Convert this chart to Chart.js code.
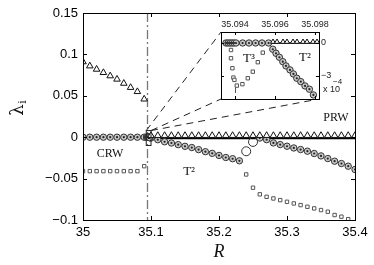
<!DOCTYPE html>
<html>
<head>
<meta charset="utf-8">
<title>Lambda vs R</title>
<script src="https://cdn.jsdelivr.net/npm/chart.js"></script>
<style>
  body { margin: 0; background: #fff; }
  #wrap { position: relative; width: 374px; height: 265px; }
  #wrap canvas { position: absolute; left: 0; top: 0; }
</style>
</head>
<body>
<div id="wrap">
  <canvas id="mainChart" width="374" height="265"></canvas>
  <canvas id="insetChart" width="374" height="265"></canvas>
</div>
<script>
// ---- main axes ----
const rTicks = [35, 35.1, 35.2, 35.3, 35.4];
const lamTicks = [-0.1, -0.05, 0, 0.05, 0.1, 0.15];

// triangles, falling branch left of the fold
const triR = [35.00, 35.01, 35.02, 35.03, 35.04, 35.05, 35.06, 35.07, 35.08, 35.09];
const triLam = [0.091, 0.086, 0.082, 0.078, 0.074, 0.070, 0.065, 0.060, 0.055, 0.046];

// triangles just above zero (PRW) and the solid zero line under them
const triZeroR = [35.10, 35.11, 35.12, 35.13, 35.14, 35.15, 35.16, 35.17, 35.18, 35.19, 35.20,
  35.21, 35.22, 35.23, 35.24, 35.25, 35.26, 35.27, 35.28, 35.29, 35.30, 35.31, 35.32, 35.33, 35.34,
  35.35, 35.36, 35.37, 35.38, 35.39, 35.40];
const triZeroLam = [0.002, 0.002, 0.002, 0.002, 0.002, 0.002, 0.002, 0.002, 0.002, 0.002, 0.002,
  0.002, 0.002, 0.002, 0.002, 0.002, 0.002, 0.002, 0.002, 0.002, 0.002, 0.002, 0.002, 0.002, 0.002,
  0.002, 0.002, 0.002, 0.002, 0.002, 0.002];
const zeroLineR = [35.094, 35.40];
const zeroLineLam = [-0.0014, -0.0014];

// circles on zero (CRW)
const cirZeroR = [35.00, 35.01, 35.02, 35.03, 35.04, 35.05, 35.06, 35.07, 35.08, 35.09];
const cirZeroLam = [0, 0, 0, 0, 0, 0, 0, 0, 0, 0];

// circles, first T2 branch
const cirDownR = [35.10, 35.11, 35.12, 35.13, 35.14, 35.15, 35.16, 35.17, 35.18, 35.19, 35.20, 35.21, 35.22, 35.23];
const cirDownLam = [-0.001, -0.003, -0.0055, -0.007, -0.009, -0.011, -0.0125, -0.015, -0.0175, -0.0195,
  -0.022, -0.0245, -0.026, -0.0285];

// open circles between branches
const cirOpenR = [35.24, 35.25];
const cirOpenLam = [-0.017, -0.0057];

// circles, second branch
const cirDown2R = [35.26, 35.27, 35.28, 35.29, 35.30, 35.31, 35.32, 35.33, 35.34, 35.35, 35.36, 35.37, 35.38, 35.39, 35.40];
const cirDown2Lam = [-0.001, -0.003, -0.0069, -0.0089, -0.0109, -0.013, -0.0149, -0.0169, -0.0197,
  -0.0226, -0.0258, -0.029, -0.0318, -0.035, -0.039];

// squares
const sqR = [35.00, 35.01, 35.02, 35.03, 35.04, 35.05, 35.06, 35.07, 35.08, 35.09];
const sqLam = [-0.041, -0.041, -0.041, -0.041, -0.041, -0.041, -0.041, -0.041, -0.041, -0.035];
const sq2R = [35.24, 35.25, 35.26, 35.27, 35.28, 35.29, 35.30, 35.31, 35.32, 35.33, 35.34, 35.35, 35.36, 35.37, 35.38, 35.39];
const sq2Lam = [-0.045, -0.061, -0.069, -0.072, -0.074, -0.076, -0.078, -0.080, -0.082, -0.084,
  -0.086, -0.088, -0.090, -0.094, -0.096, -0.099];

// ---- inset (zoom near the fold) ----
const inRTicks = [35.094, 35.096, 35.098];
const inLamTicks = [0, -0.0003];
const inTriR = [35.0959, 35.0961, 35.0964, 35.0966, 35.0969, 35.0971, 35.0974, 35.0976, 35.0979, 35.0981];
const inTriLam = [0.1e-4, 0.1e-4, 0.1e-4, 0.1e-4, 0.1e-4, 0.1e-4, 0.1e-4, 0.1e-4, 0.1e-4, 0.1e-4];
const inLineR = [35.0936, 35.0982];
const inLineLam = [0, 0];
const inCirZeroR = [35.09355, 35.09365, 35.09375, 35.09385, 35.09395, 35.09405, 35.09438, 35.0947, 35.09503, 35.09535, 35.09568];
const inCirZeroLam = [0, 0, 0, 0, 0, 0, 0, 0, 0, 0, 0];
const inCirDownR = [35.09589, 35.09605, 35.09622, 35.09639, 35.09655, 35.09675, 35.09692, 35.09709, 35.09729, 35.0975, 35.09772, 35.09792];
const inCirDownLam = [-0.57e-4, -0.94e-4, -1.30e-4, -1.70e-4, -2.09e-4, -2.45e-4, -2.82e-4, -3.21e-4, -3.52e-4, -3.91e-4, -4.21e-4, -4.73e-4];
const inSqR = [35.0938, 35.0938, 35.09387, 35.09392, 35.09397, 35.09409, 35.09437, 35.09464, 35.09489, 35.09514, 35.09539];
const inSqLam = [-0.64e-4, -1.39e-4, -2.30e-4, -3.15e-4, -3.36e-4, -3.88e-4, -3.75e-4, -3.21e-4, -2.61e-4, -1.75e-4, -0.88e-4];

const pts = (xs, ys) => xs.map((x, i) => ({ x: x, y: ys[i] }));
const fmt = v => String(parseFloat(Number(v).toFixed(6))).replace('-', '\u2212');

function markerSets(list) {
  // list of [xs, ys, kind]
  const out = [];
  list.forEach(([xs, ys, kind]) => {
    const d = pts(xs, ys);
    if (kind === 'tri') {
      out.push({ data: d, pointStyle: 'triangle', pointRadius: 3.8, borderColor: '#111', backgroundColor: '#fff', pointBorderWidth: 1 });
    } else if (kind === 'triSmall') {
      out.push({ data: d, pointStyle: 'triangle', pointRadius: 2.9, borderColor: '#111', backgroundColor: '#fff', pointBorderWidth: 1 });
    } else if (kind === 'line') {
      out.push({ data: d, showLine: true, borderColor: '#000', borderWidth: 1.6, pointRadius: 0 });
    } else if (kind === 'cir') {
      out.push({ data: d, pointStyle: 'circle', pointRadius: 3.2, borderColor: '#333', backgroundColor: '#c8c8c8', pointBorderWidth: 1 });
      out.push({ data: d, pointStyle: 'circle', pointRadius: 1.1, borderColor: '#222', backgroundColor: '#222', pointBorderWidth: 0 });
    } else if (kind === 'open') {
      out.push({ data: d, pointStyle: 'circle', pointRadius: 4.5, borderColor: '#333', backgroundColor: 'rgba(0,0,0,0)', pointBorderWidth: 1 });
    } else if (kind === 'sq') {
      out.push({ data: d, pointStyle: 'rect', pointRadius: 2.4, borderColor: '#555', backgroundColor: '#fff', pointBorderWidth: 1 });
    }
  });
  return out;
}

function inwardTicks(ctx, a, sx, sy, xt, yt, len) {
  ctx.beginPath();
  xt.forEach(v => {
    const px = Math.round(sx.getPixelForValue(v)) + 0.5;
    ctx.moveTo(px, a.bottom); ctx.lineTo(px, a.bottom - len);
    ctx.moveTo(px, a.top); ctx.lineTo(px, a.top + len);
  });
  yt.forEach(v => {
    const py = Math.round(sy.getPixelForValue(v)) + 0.5;
    ctx.moveTo(a.left, py); ctx.lineTo(a.left + len, py);
    ctx.moveTo(a.right, py); ctx.lineTo(a.right - len, py);
  });
  ctx.stroke();
}

// ---- inset chart ----
const insetFrame = {
  id: 'insetFrame',
  beforeDatasetsDraw(chart) {
    const { ctx, chartArea: a, scales: { x } } = chart;
    ctx.save();
    ctx.fillStyle = '#fff';
    ctx.fillRect(a.left, a.top, a.right - a.left, a.bottom - a.top);
    // piece of the fold line inside the inset
    ctx.strokeStyle = '#555'; ctx.lineWidth = 1;
    const fx = Math.round(x.getPixelForValue(35.094)) + 0.5;
    ctx.beginPath(); ctx.moveTo(fx, a.bottom - 12); ctx.lineTo(fx, a.bottom - 6); ctx.stroke();
    ctx.restore();
  },
  afterDraw(chart) {
    const { ctx, chartArea: a, scales: { x, y } } = chart;
    ctx.save();
    ctx.strokeStyle = '#000'; ctx.lineWidth = 1;
    ctx.strokeRect(Math.round(a.left) + 0.5, Math.round(a.top) + 0.5, Math.round(a.right - a.left), Math.round(a.bottom - a.top));
    inwardTicks(ctx, a, x, y, inRTicks, inLamTicks, 3);
    // exponent of the right axis
    ctx.fillStyle = '#222';
    ctx.font = '9px "Liberation Sans"';
    ctx.textBaseline = 'middle'; ctx.textAlign = 'left';
    ctx.fillText('x 10', a.right + 4, a.bottom - 9);
    ctx.font = '8px "Liberation Sans"';
    ctx.fillText('\u22124', a.right + 14, a.bottom - 17);
    // branch labels
    ctx.font = '13px "Liberation Serif"';
    ctx.fillStyle = '#111';
    ctx.fillText('T\u00b3', x.getPixelForValue(35.0944), y.getPixelForValue(-1.4e-4));
    ctx.fillText('T\u00b2', x.getPixelForValue(35.0972), y.getPixelForValue(-1.3e-4));
    ctx.restore();
  }
};

const insetChart = new Chart(document.getElementById('insetChart'), {
  type: 'scatter',
  data: {
    datasets: markerSets([
      [inLineR, inLineLam, 'line'],
      [inSqR, inSqLam, 'sq'],
      [inCirDownR, inCirDownLam, 'cir'],
      [inCirZeroR, inCirZeroLam, 'cir'],
      [inTriR, inTriLam, 'triSmall']
    ]).reverse()
  },
  options: {
    responsive: false, animation: false, events: [],
    layout: { padding: { left: 221, right: 0, top: 0, bottom: 166 } },
    plugins: { legend: { display: false }, tooltip: { enabled: false } },
    scales: {
      x: {
        type: 'linear', position: 'top', min: 35.0933, max: 35.0982,
        afterBuildTicks: s => { s.ticks = inRTicks.map(v => ({ value: v })); },
        afterFit: s => { s.height = 32; },
        grid: { display: false, drawTicks: false }, border: { display: false },
        ticks: { padding: 2, maxRotation: 0, font: { family: 'Liberation Sans', size: 9 }, color: '#222', callback: v => fmt(v) }
      },
      y: {
        type: 'linear', position: 'right', min: -5.1e-4, max: 1e-4,
        afterBuildTicks: s => { s.ticks = inLamTicks.map(v => ({ value: v })); },
        afterFit: s => { s.width = 55; },
        grid: { display: false, drawTicks: false }, border: { display: false },
        ticks: { padding: 2, font: { family: 'Liberation Sans', size: 9 }, color: '#222', callback: v => fmt(Math.round(v * 1e4)) }
      }
    }
  },
  plugins: [insetFrame]
});

// ---- main chart ----
const mainFrame = {
  id: 'mainFrame',
  beforeDatasetsDraw(chart) {
    const { ctx, chartArea: a, scales: { x } } = chart;
    ctx.save();
    // dash-dot fold line
    ctx.strokeStyle = '#777'; ctx.lineWidth = 1.3;
    ctx.setLineDash([9, 3, 2, 3]);
    const fx = Math.round(x.getPixelForValue(35.0945)) + 0.5;
    ctx.beginPath(); ctx.moveTo(fx, a.top); ctx.lineTo(fx, a.bottom); ctx.stroke();
    ctx.restore();
  },
  afterDraw(chart) {
    const { ctx, chartArea: a, scales: { x, y } } = chart;
    ctx.save();
    ctx.strokeStyle = '#000'; ctx.lineWidth = 1;
    ctx.strokeRect(Math.round(a.left) + 0.5, Math.round(a.top) + 0.5, Math.round(a.right - a.left), Math.round(a.bottom - a.top));
    inwardTicks(ctx, a, x, y, rTicks, lamTicks, 4);

    // zoom box and connectors to the inset
    const bx0 = x.getPixelForValue(35.093), bx1 = x.getPixelForValue(35.1);
    const by0 = y.getPixelForValue(0.008), by1 = y.getPixelForValue(-0.01);
    ctx.strokeStyle = '#222'; ctx.lineWidth = 1;
    ctx.strokeRect(bx0, by0, bx1 - bx0, by1 - by0);
    const ia = insetChart.chartArea;
    ctx.setLineDash([7, 5]);
    ctx.beginPath();
    ctx.moveTo(bx0, by0); ctx.lineTo(ia.left, ia.top);
    ctx.moveTo(bx1, by0); ctx.lineTo(ia.left, ia.bottom);
    ctx.moveTo(bx1, by0); ctx.lineTo(ia.right, ia.bottom);
    ctx.stroke();
    ctx.setLineDash([]);

    // region labels
    ctx.fillStyle = '#111';
    ctx.font = '12px "Liberation Serif"';
    ctx.textAlign = 'center'; ctx.textBaseline = 'middle';
    ctx.fillText('CRW', x.getPixelForValue(35.0397), y.getPixelForValue(-0.0205));
    ctx.fillText('PRW', x.getPixelForValue(35.372), y.getPixelForValue(0.0229));
    ctx.font = '13px "Liberation Serif"';
    ctx.fillText('T\u00b2', x.getPixelForValue(35.156), y.getPixelForValue(-0.042));

    // axis titles
    ctx.font = 'italic 18px "Liberation Serif"';
    ctx.fillText('R', (a.left + a.right) / 2, 252);
    ctx.save();
    ctx.translate(18, 110);
    ctx.rotate(-Math.PI / 2);
    ctx.font = '18px "DejaVu Serif"';
    ctx.fillText('\u03bb', 0, 0);
    ctx.font = '11px "DejaVu Serif"';
    ctx.fillText('i', 8, 5);
    ctx.restore();
    ctx.restore();
  }
};

new Chart(document.getElementById('mainChart'), {
  type: 'scatter',
  data: {
    datasets: markerSets([
      [zeroLineR, zeroLineLam, 'line'],
      [sqR, sqLam, 'sq'],
      [sq2R, sq2Lam, 'sq'],
      [inSqR, inSqLam, 'sq'],
      [cirZeroR, cirZeroLam, 'cir'],
      [inCirZeroR, inCirZeroLam, 'cir'],
      [cirDownR, cirDownLam, 'cir'],
      [inCirDownR, inCirDownLam, 'cir'],
      [cirOpenR, cirOpenLam, 'open'],
      [cirDown2R, cirDown2Lam, 'cir'],
      [triR, triLam, 'tri'],
      [triZeroR, triZeroLam, 'tri']
    ]).reverse()
  },
  options: {
    responsive: false, animation: false, events: [],
    layout: { padding: { left: 0, right: 19, top: 13, bottom: 0 } },
    plugins: { legend: { display: false }, tooltip: { enabled: false } },
    scales: {
      x: {
        type: 'linear', min: 35, max: 35.4,
        afterBuildTicks: s => { s.ticks = rTicks.map(v => ({ value: v })); },
        afterFit: s => { s.height = 45; },
        grid: { display: false, drawTicks: false }, border: { display: false },
        ticks: { padding: 5, maxRotation: 0, font: { family: 'Liberation Sans', size: 13 }, color: '#000', callback: v => fmt(v) }
      },
      y: {
        type: 'linear', min: -0.1, max: 0.15,
        afterBuildTicks: s => { s.ticks = lamTicks.map(v => ({ value: v })); },
        afterFit: s => { s.width = 83; },
        grid: { display: false, drawTicks: false }, border: { display: false },
        ticks: { padding: 5, font: { family: 'Liberation Sans', size: 13 }, color: '#000', callback: v => fmt(v) }
      }
    }
  },
  plugins: [mainFrame]
});
</script>
</body>
</html>
